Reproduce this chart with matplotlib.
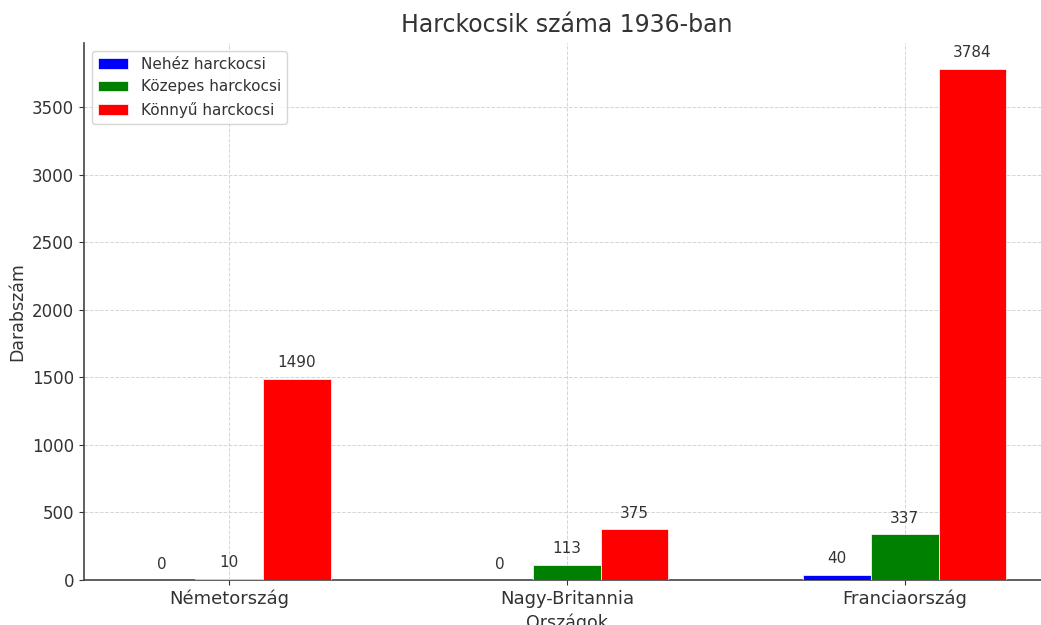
import matplotlib.pyplot as plt
import numpy as np

# Data
countries = ["Németország", "Nagy-Britannia", "Franciaország"]
heavy = [0, 0, 40]
medium = [10, 113, 337]
light = [1490, 375, 3784]
series_names = ["Nehéz harckocsi", "Közepes harckocsi", "Könnyű harckocsi"]
series_colors = ["blue", "green", "red"]

TEXT = '#333333'
plt.rcParams['font.family'] = ['DejaVu Sans']
plt.rcParams['text.color'] = TEXT
plt.rcParams['axes.labelcolor'] = TEXT
plt.rcParams['xtick.color'] = TEXT
plt.rcParams['ytick.color'] = TEXT

fig = plt.figure(figsize=(10.41, 6.25), dpi=100)
ax = fig.add_axes([84 / 1041, 45 / 625, (1050 - 84) / 1041, (580 - 43) / 625])

x = np.arange(len(countries))
width = 0.2

for i, (vals, name, col) in enumerate(zip([heavy, medium, light], series_names, series_colors)):
    bars = ax.bar(x + (i - 1) * width, vals, width, label=name, color=col,
                  edgecolor='white', linewidth=0.5, zorder=3)
    for b in bars:
        h = b.get_height()
        ax.annotate(f'{h}', xy=(b.get_x() + b.get_width() / 2, h),
                    xytext=(0, 6), textcoords='offset points',
                    ha='center', va='bottom', fontsize=11, color=TEXT)

ax.set_title("Harckocsik száma 1936-ban", fontsize=17, color=TEXT, pad=8)
ax.set_xlabel("Országok", fontsize=12.5)
ax.set_ylabel("Darabszám", fontsize=12.5)
ax.set_xticks(x)
ax.set_xticklabels(countries)
ax.tick_params(axis='y', labelsize=12)
ax.tick_params(axis='x', labelsize=13)

ax.grid(True, linestyle='--', color='#d5d5d5', linewidth=0.7, zorder=0)
ax.set_axisbelow(True)
for s in ['top', 'right']:
    ax.spines[s].set_visible(False)
for s in ['left', 'bottom']:
    ax.spines[s].set_color('#444444')
    ax.spines[s].set_linewidth(1.2)

leg = ax.legend(loc='upper left', fontsize=11, framealpha=0.8)
for t in leg.get_texts():
    t.set_color(TEXT)

fig.savefig('out.png', dpi=100)
